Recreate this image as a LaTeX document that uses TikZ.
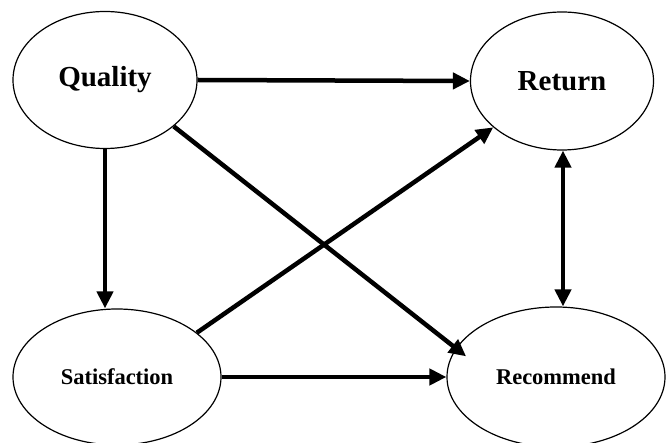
\documentclass[tikz,border=0pt]{standalone}
\usepackage{fontspec}
\setmainfont{Liberation Serif}
\usetikzlibrary{shapes.geometric,arrows.meta}
\begin{document}
\begin{tikzpicture}[x=1pt,y=-1pt,
  construct/.style={ellipse,draw,line width=1.2pt,inner sep=0pt,font=\bfseries},
  big/.style={font=\fontsize{29}{31}\selectfont\bfseries},
  small/.style={font=\fontsize{22.5}{25}\selectfont\bfseries},
  link/.style={line width=4.5pt,-{Triangle[length=17pt,width=16pt]}},
  bilink/.style={line width=4.5pt,{Triangle[length=17pt,width=16pt]}-{Triangle[length=17pt,width=16pt]}}]
  \fill[white] (0,0) rectangle (667,443);
  \useasboundingbox (0,0) rectangle (667,443);

  % the four constructs
  \node[construct,big,minimum width=184pt,minimum height=137pt] (Q) at (105,80) {Quality};
  \node[construct,big,minimum width=183pt,minimum height=138pt] (R) at (562,81) {Return};
  \node[construct,small,minimum width=208pt,minimum height=136pt] (S) at (117,377) {Satisfaction};
  \node[construct,small,minimum width=218pt,minimum height=140pt] (M) at (556,377) {Recommend};

  % paths between them
  \draw[link] (Q.east) -- (R.west);
  \draw[link] (Q.south -| 105,0) -- (105,0 |- S.north);
  \draw[link,shorten >=-13pt] (Q.-34) -- (M.164);
  \draw[link] (S.29) -- (R.-146);
  \draw[link] (S.east) -- (M.west);
  \draw[bilink] (563,0 |- R.south) -- (563,0 |- M.north);
\end{tikzpicture}
\end{document}
